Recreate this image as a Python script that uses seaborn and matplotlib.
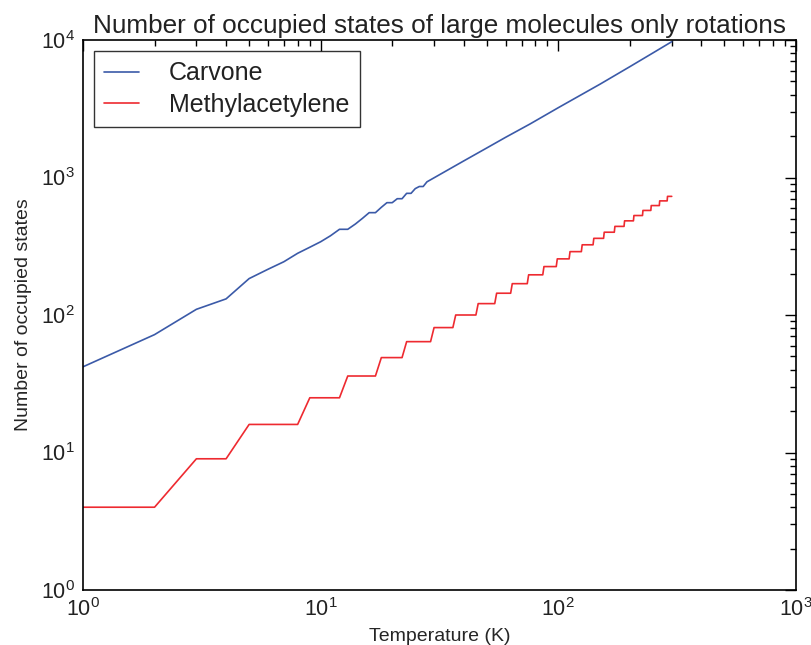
import matplotlib
matplotlib.use("Agg")
import matplotlib.pyplot as plt
import seaborn as sns
import pandas as pd

# Carvone: number of occupied rotational states
carvone_T = [1, 2, 3, 4, 5, 6, 7, 8, 9, 10, 11, 12, 13, 14, 15, 16, 17, 18, 19, 20,
             21, 22, 23, 24, 25, 26, 27, 28, 30, 40, 50, 60, 76, 100, 150, 200, 250, 300]
carvone_N = [42, 72, 110, 131, 184, 215, 244, 281, 311, 341, 377, 420, 420, 459, 505, 555, 555, 607, 656, 656,
             701, 701, 767, 767, 830, 860, 860, 930, 995, 1320, 1640, 1960, 2450, 3220, 4780, 6400, 8050, 9720]

# Methylacetylene: step corners
methyl_T = [1, 2, 3, 4, 5, 8, 9, 12, 13, 17, 18, 22, 23, 29, 30, 36, 37, 45, 46, 54,
            55, 63, 64, 74, 75, 86, 87, 98, 99, 111, 112, 125, 126, 140, 141, 155, 156, 172, 173, 189,
            190, 207, 208, 226, 227, 245, 246, 266, 267, 287, 288, 300]
methyl_N = [4, 4, 9, 9, 16, 16, 25, 25, 36, 36, 49, 49, 64, 64, 81, 81, 100, 100, 121, 121,
            144, 144, 169, 169, 196, 196, 225, 225, 256, 256, 289, 289, 324, 324, 361, 361, 400, 400, 441, 441,
            484, 484, 529, 529, 576, 576, 625, 625, 676, 676, 729, 729]

labels = ["Carvone", "Methylacetylene"]
colors = ["#3b5aa8", "#ee2a30"]

df = pd.concat([
    pd.DataFrame({"T": carvone_T, "N": carvone_N, "molecule": labels[0]}),
    pd.DataFrame({"T": methyl_T, "N": methyl_N, "molecule": labels[1]}),
])

sns.set_style("white")
plt.rcParams["font.family"] = ["Liberation Sans", "DejaVu Sans"]
plt.rcParams["mathtext.fontset"] = "custom"
plt.rcParams["mathtext.rm"] = "Liberation Sans"
plt.rcParams["mathtext.it"] = "Liberation Sans:italic"
plt.rcParams["text.color"] = "#222222"

fig = plt.figure(figsize=(8.11, 6.45), dpi=100)
ax = fig.add_axes([83 / 811, 55 / 645, 713 / 811, 550 / 645])

sns.lineplot(data=df, x="T", y="N", hue="molecule", hue_order=labels,
             palette=colors, estimator=None, sort=False, units="molecule",
             linewidth=1.2, ax=ax)

ax.set_xscale("log")
ax.set_yscale("log")
ax.set_xlim(1, 1000)
ax.set_ylim(1, 10000)

ax.set_title("Number of occupied states of large molecules only rotations", fontsize=18.8, pad=5)
ax.set_xlabel("Temperature (K)", fontsize=14, labelpad=5)
ax.set_ylabel("Number of occupied states", fontsize=14, labelpad=6)

ax.tick_params(which="both", direction="in", top=True, right=True, colors="black",
               labelsize=15.5, labelcolor="#222222")
ax.tick_params(which="major", length=8, width=1)
ax.tick_params(which="minor", length=4, width=1)
ax.tick_params(axis="x", pad=6)
ax.tick_params(axis="y", pad=6)
for s in ax.spines.values():
    s.set_color("black")
    s.set_linewidth(1.2)

leg = ax.legend(loc="upper left", fontsize=18, frameon=True, fancybox=False,
                edgecolor="black", handlelength=1.4, handletextpad=1.2,
                borderpad=0.4, labelspacing=0.3, title=None,
                borderaxespad=0.45)
leg.get_frame().set_linewidth(1.0)

fig.savefig("out.png", dpi=100)
